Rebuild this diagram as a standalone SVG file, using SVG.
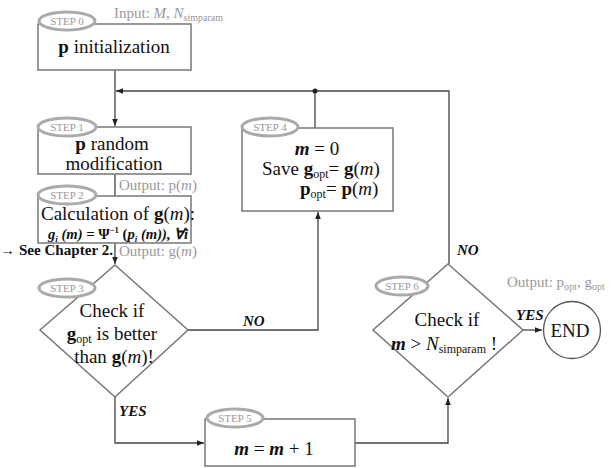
<svg xmlns="http://www.w3.org/2000/svg" width="613" height="468" viewBox="0 0 613 468" font-family="Liberation Serif, serif">
<style>
.box{fill:#fff;stroke:#777;stroke-width:1.5}
.step{fill:#fff;stroke:#aaa;stroke-width:3}
.sl{font-family:"Liberation Serif",serif;font-size:11px;fill:#999;text-anchor:middle}
.main{font-family:"Liberation Serif",serif;font-size:19px;fill:#111;text-anchor:middle}
.lft{font-family:"Liberation Serif",serif;font-size:19px;fill:#111}
.g{font-family:"Liberation Serif",serif;font-size:15px;fill:#999}
.ln{fill:none;stroke:#444;stroke-width:1.3}
.lb{font-family:"Liberation Serif",serif;font-size:15px;font-weight:bold;font-style:italic;fill:#111}
</style>
<defs>
<marker id="ah" viewBox="0 0 10 10" refX="10" refY="5" markerWidth="7" markerHeight="7" orient="auto" markerUnits="userSpaceOnUse">
<path d="M0,1 L10,5 L0,9 z" fill="#222"/>
</marker>
</defs>
<g id="connectors">
<path class="ln" d="M115,70 V126" marker-end="url(#ah)"/>
<path class="ln" d="M449,264 V91 H116" marker-end="url(#ah)"/>
<path class="ln" d="M315,128 V91"/>
<circle cx="315" cy="91" r="2.5" fill="#222"/>
<path class="ln" d="M115,174 V196"/>
<path class="ln" d="M115,243 V264" marker-end="url(#ah)"/>
<path class="ln" d="M188,330 H318 V212" marker-end="url(#ah)"/>
<path class="ln" d="M115,397 V443 H204" marker-end="url(#ah)"/>
<path class="ln" d="M355,443 H448 V398" marker-end="url(#ah)"/>
<path class="ln" d="M523,330 H542" marker-end="url(#ah)"/>
<text class="lb" x="243" y="326">NO</text>
<text class="lb" x="119" y="416">YES</text>
<text class="lb" x="457" y="255">NO</text>
<text class="lb" x="516" y="320">YES</text>
</g>
<g id="step0">
<rect class="box" x="38" y="24" width="153" height="46"/>
<ellipse class="step" cx="67" cy="21" rx="28" ry="9"/>
<text class="sl" x="67" y="25">STEP 0</text>
<text class="main" x="114" y="53"><tspan font-weight="bold">p</tspan> initialization</text>
<text class="g" x="114" y="18">Input: <tspan font-style="italic">M</tspan>, <tspan font-style="italic">N</tspan><tspan font-size="10" dy="3">simparam</tspan></text>
</g>
<g id="step1">
<rect class="box" x="38" y="127" width="153" height="47"/>
<ellipse class="step" cx="67" cy="127" rx="29" ry="9"/>
<text class="sl" x="67" y="131">STEP 1</text>
<text class="main" x="112" y="150"><tspan font-weight="bold">p</tspan> random</text>
<text class="main" x="114" y="170">modification</text>
<text class="g" x="119" y="190">Output: p(<tspan font-style="italic">m</tspan>)</text>
</g>
<g id="step2">
<rect class="box" x="38" y="196" width="153" height="47"/>
<ellipse class="step" cx="67" cy="195" rx="29" ry="9"/>
<text class="sl" x="67" y="199">STEP 2</text>
<text class="main" x="118" y="220" font-size="17">Calculation of <tspan font-weight="bold">g</tspan>(<tspan font-style="italic">m</tspan>):</text>
<text x="48" y="239" font-size="15" font-weight="bold" font-style="italic" fill="#111" textLength="140" lengthAdjust="spacingAndGlyphs">g<tspan font-size="9" dy="3">i</tspan><tspan dy="-3"> (m) = </tspan><tspan font-style="normal">Ψ</tspan><tspan font-size="9" dy="-6" font-style="normal">−1</tspan><tspan dy="6" font-style="normal"> (</tspan>p<tspan font-size="9" dy="3">i</tspan><tspan dy="-3"> (m)), ∀i</tspan></text>
<text x="0" y="255" font-size="14" font-weight="bold" fill="#111" textLength="113" lengthAdjust="spacingAndGlyphs">→ See Chapter 2.</text>
<text class="g" x="119" y="256">Output: g(<tspan font-style="italic">m</tspan>)</text>
</g>
<g id="step3">
<path class="box" d="M115,265 L188,330 L115,397 L40,330 Z"/>
<ellipse class="step" cx="67" cy="288" rx="28" ry="9"/>
<text class="sl" x="67" y="292">STEP 3</text>
<text class="main" x="112" y="317">Check if</text>
<text class="main" x="112" y="340"><tspan font-weight="bold">g</tspan><tspan font-size="12" dy="3">opt</tspan><tspan dy="-3"> is better</tspan></text>
<text class="main" x="114" y="363">than <tspan font-weight="bold">g</tspan>(<tspan font-style="italic">m</tspan>)!</text>
</g>
<g id="step4">
<rect class="box" x="242" y="128" width="151" height="83"/>
<ellipse class="step" cx="270" cy="127" rx="28" ry="9"/>
<text class="sl" x="270" y="131">STEP 4</text>
<text class="main" x="317" y="155"><tspan font-style="italic" font-weight="bold">m</tspan> = 0</text>
<text class="lft" x="262" y="175">Save <tspan font-weight="bold">g</tspan><tspan font-size="12" dy="3">opt</tspan><tspan dy="-3">= </tspan><tspan font-weight="bold">g</tspan>(<tspan font-style="italic">m</tspan>)</text>
<text class="lft" x="300" y="195"><tspan font-weight="bold">p</tspan><tspan font-size="12" dy="3">opt</tspan><tspan dy="-3">= </tspan><tspan font-weight="bold">p</tspan>(<tspan font-style="italic">m</tspan>)</text>
</g>
<g id="step5">
<rect class="box" x="205" y="419" width="150" height="47"/>
<ellipse class="step" cx="235" cy="418" rx="28" ry="9"/>
<text class="sl" x="235" y="422">STEP 5</text>
<text class="main" x="274" y="455" font-size="20"><tspan font-style="italic" font-weight="bold">m</tspan> = <tspan font-style="italic" font-weight="bold">m</tspan> + 1</text>
</g>
<g id="step6">
<path class="box" d="M448,264 L523,330 L448,397 L373,330 Z"/>
<ellipse class="step" cx="402" cy="286" rx="26" ry="9"/>
<text class="sl" x="402" y="290">STEP 6</text>
<text class="main" x="447" y="326">Check if</text>
<text class="main" x="444" y="350"><tspan font-style="italic" font-weight="bold">m</tspan> &gt; <tspan font-style="italic">N</tspan><tspan font-size="12" dy="3">simparam</tspan><tspan dy="-3"> !</tspan></text>
</g>
<g id="end">
<circle cx="572" cy="330" r="28.5" fill="#fff" stroke="#555" stroke-width="1.3"/>
<text class="main" x="570" y="337">END</text>
<text class="g" x="507" y="287">Output: p<tspan font-size="10" dy="3">opt</tspan><tspan dy="-3">, g</tspan><tspan font-size="10" dy="3">opt</tspan></text>
</g>
</svg>
